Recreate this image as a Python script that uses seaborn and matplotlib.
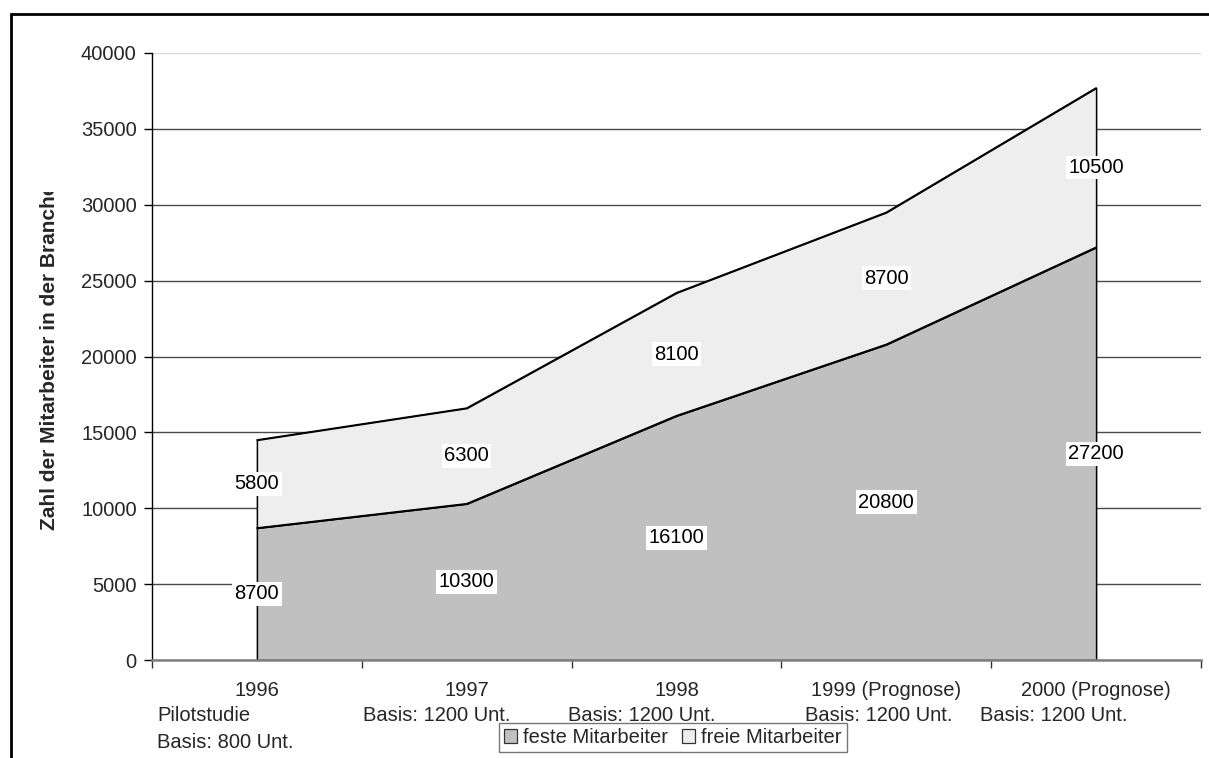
import matplotlib
matplotlib.use("Agg")
import matplotlib.pyplot as plt
from matplotlib.patches import Rectangle
from matplotlib.transforms import Bbox, TransformedBbox
import seaborn as sns
import pandas as pd

# --- data -------------------------------------------------------------
years = ["1996", "1997", "1998", "1999 (Prognose)", "2000 (Prognose)"]
basis = ["Pilotstudie\nBasis: 800 Unt.", "Basis: 1200 Unt.", "Basis: 1200 Unt.",
         "Basis: 1200 Unt.", "Basis: 1200 Unt."]
feste = [8700, 10300, 16100, 20800, 27200]
freie = [5800, 6300, 8100, 8700, 10500]
series_names = ["feste Mitarbeiter", "freie Mitarbeiter"]
y_label = "Zahl der Mitarbeiter in der Branche"

# --- styling ------------------------------------------------------------
sns.set_theme(style="white")
plt.rcParams["font.family"] = ["Liberation Sans", "DejaVu Sans"]
FS = 14.5
COL_FESTE = "#c0c0c0"
COL_FREIE = "#eeeeee"

W, H = 1209, 758
fig = plt.figure(figsize=(W / 100, H / 100), dpi=100)
ax = fig.add_axes([152 / W, 1 - 660 / H, (1201 - 152) / W, (660 - 53) / H])

df = pd.DataFrame({"pos": range(len(years)), "feste": feste, "freie": freie})
df["total"] = df["feste"] + df["freie"]

# stacked areas
ax.fill_between(df["pos"], 0, df["feste"], facecolor=COL_FESTE,
                edgecolor="black", linewidth=1.1, zorder=2, label=series_names[0])
ax.fill_between(df["pos"], df["feste"], df["total"], facecolor=COL_FREIE,
                edgecolor="black", linewidth=1.1, zorder=2, label=series_names[1])
sns.lineplot(data=df, x="pos", y="total", color="black", linewidth=1.1,
             ax=ax, zorder=3, legend=False)
sns.lineplot(data=df, x="pos", y="feste", color="black", linewidth=1.1,
             ax=ax, zorder=3, legend=False)

# value labels in the middle of each band
for i in range(len(years)):
    for val, base in ((feste[i], 0), (freie[i], feste[i])):
        ax.text(i, base + val / 2, f"{val}", ha="center", va="center",
                fontsize=FS, color="black", zorder=5,
                bbox=dict(facecolor="white", edgecolor="none", pad=1.8))

# axes
ax.set_xlim(-0.5, len(years) - 0.5)
ax.set_ylim(0, 40000)
ax.set_yticks(range(0, 40001, 5000))
ax.set_yticklabels([str(v) for v in range(0, 40001, 5000)], fontsize=FS)
ax.set_xticks([i - 0.5 for i in range(len(years) + 1)])
ax.set_xticklabels([])
ax.set_xlabel("")
ax.set_ylabel("")
ax.tick_params(axis="y", direction="out", length=6, width=1, color="black",
               pad=5, left=True)
ax.tick_params(axis="x", direction="out", length=6, width=1, color="#333333",
               bottom=True)

ax.yaxis.grid(True, color="#4a4a4a", linewidth=1.0, zorder=0)
ax.set_axisbelow(True)
gl = ax.get_ygridlines()
gl[-1].set_color("#d8d8d8")
for side in ("top", "right"):
    ax.spines[side].set_visible(False)
ax.spines["left"].set_color("black")
ax.spines["left"].set_linewidth(1.0)
ax.spines["bottom"].set_color("#808080")
ax.spines["bottom"].set_linewidth(1.8)
ax.set_facecolor("white")

# category labels below the axis
px = 1.0 / 210.0  # data units per pixel on x
sub_offsets = [-100, -104, -109, -81, -116]
for i, yr in enumerate(years):
    ax.annotate(yr, xy=(i, 0), xycoords="data", xytext=(0, -30),
                textcoords="offset pixels", ha="center", va="center",
                fontsize=FS, annotation_clip=False)
for i, sub in enumerate(basis):
    ax.annotate(sub, xy=(i + sub_offsets[i] * px, 0), xycoords="data",
                xytext=(0, -46), textcoords="offset pixels",
                ha="left", va="top", fontsize=FS, linespacing=1.55,
                annotation_clip=False)

# legend
leg = ax.legend(loc="upper left", bbox_to_anchor=(499 / W, 1 - 723 / H),
                bbox_transform=fig.transFigure, ncol=2, frameon=True,
                fontsize=FS, handlelength=0.65, handleheight=0.65,
                handletextpad=0.3, columnspacing=0.7, borderpad=0.25,
                borderaxespad=0, fancybox=False)
leg.get_frame().set_edgecolor("#555555")
leg.get_frame().set_linewidth(1.0)
for h in leg.legend_handles:
    h.set_edgecolor("#333333")
    h.set_linewidth(0.9)

# rotated axis title, cut off at the top
t = fig.text(50 / W, 1 - 357 / H, y_label, rotation=90, ha="center",
             va="center", fontsize=15, fontweight="bold")
t.set_clip_on(True)
t.set_clip_box(TransformedBbox(Bbox([[0, 0], [1, 1 - 192 / H]]), fig.transFigure))

# outer frame
fig.patches.append(Rectangle((11 / W, -0.2), 1.2, 1.2 - 14 / H,
                             transform=fig.transFigure, fill=False,
                             edgecolor="black", linewidth=2.0))

fig.savefig("out.png", dpi=100)
